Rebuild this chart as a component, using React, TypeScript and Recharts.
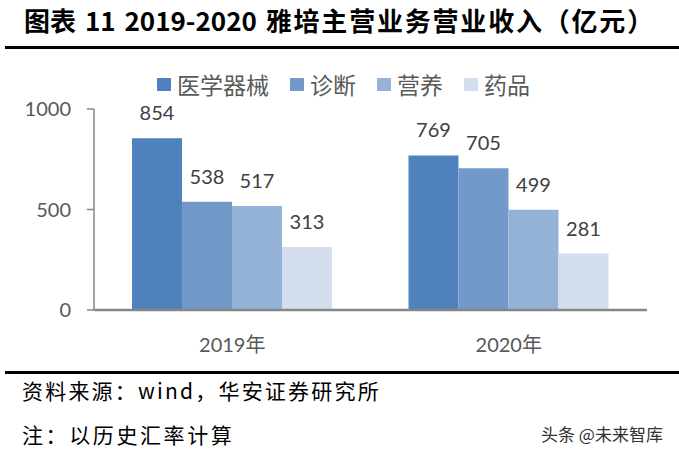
import React from 'react';
import { BarChart, Bar, XAxis, YAxis, LabelList } from 'recharts';

// 2019-2020 雅培主营业务营业收入（亿元）
const categories = ['2019年', '2020年'];
const medicalDevices = [854, 769];
const diagnostics = [538, 705];
const nutrition = [517, 499];
const pharma = [313, 281];
const yTicks = [0, 500, 1000];

const series = [
  { key: '医学器械', values: medicalDevices, color: '#4F81BD' },
  { key: '诊断', values: diagnostics, color: '#7399CB' },
  { key: '营养', values: nutrition, color: '#95B3D7' },
  { key: '药品', values: pharma, color: '#D4DEEF' },
];

const data = categories.map((name, i) => {
  const row: Record<string, string | number> = { name };
  series.forEach(s => {
    row[s.key] = s.values[i];
  });
  return row;
});

const cjk = '"Noto Sans CJK SC", "Noto Sans", sans-serif';
const num = 'Lato, "Noto Sans CJK SC", sans-serif';

function ChartLegend() {
  return (
    <div
      style={{
        position: 'absolute',
        top: 71,
        left: 0,
        width: 679,
        display: 'flex',
        justifyContent: 'center',
        alignItems: 'center',
        paddingLeft: 8,
        boxSizing: 'border-box',
      }}
    >
      {series.map((s, i) => (
        <div key={s.key} style={{ display: 'flex', alignItems: 'center', marginLeft: i === 0 ? 0 : 21 }}>
          <span style={{ display: 'inline-block', width: 14, height: 13, background: s.color, marginRight: 6 }} />
          <span style={{ fontFamily: cjk, fontSize: 23, color: '#595959', lineHeight: '26px' }}>{s.key}</span>
        </div>
      ))}
    </div>
  );
}

export default function App() {
  return (
    <div
      style={{
        position: 'absolute',
        left: 0,
        top: 0,
        width: 679,
        height: 453,
        background: '#fff',
        overflow: 'hidden',
      }}
    >
      <div
        style={{
          position: 'absolute',
          left: 24,
          top: 3,
          fontFamily: cjk,
          fontWeight: 700,
          fontSize: 26,
          wordSpacing: 3,
          color: '#000',
          whiteSpace: 'nowrap',
          lineHeight: '34px',
        }}
      >
        图表 11 2019-2020 <span style={{ letterSpacing: 1.8 }}>雅培主营业务营业收入（亿元）</span>
      </div>
      <div style={{ position: 'absolute', left: 5, top: 46, width: 674, height: 3, background: '#000' }} />

      <ChartLegend />

      <BarChart
        width={679}
        height={453}
        data={data}
        margin={{ top: 109, right: 32, bottom: 103, left: 0 }}
        barCategoryGap={38}
        barGap={0}
        style={{ position: 'absolute', left: 0, top: 0 }}
      >
        <XAxis
          dataKey="name"
          height={40}
          tickLine={false}
          tickSize={0}
          tickMargin={28}
          axisLine={{ stroke: '#868686', strokeWidth: 2.5 }}
          tick={{ fontSize: 20, fill: '#595959', fontFamily: num }}
        />
        <YAxis
          width={94}
          domain={[0, 1000]}
          ticks={yTicks}
          interval={0}
          tickSize={7}
          tickMargin={16}
          axisLine={{ stroke: '#868686', strokeWidth: 1.5 }}
          tickLine={{ stroke: '#868686', strokeWidth: 1.5 }}
          tick={{ fontSize: 20, fill: '#595959', fontFamily: num }}
        />
        {series.map(s => (
          <Bar key={s.key} dataKey={s.key} fill={s.color} isAnimationActive={false}>
            <LabelList
              dataKey={s.key}
              position="top"
              offset={18}
              style={{ fontSize: 20, fill: '#404040', fontFamily: num }}
            />
          </Bar>
        ))}
      </BarChart>

      <div style={{ position: 'absolute', left: 5, top: 371, width: 674, height: 3, background: '#000' }} />
      <div
        style={{
          position: 'absolute',
          left: 22,
          top: 376,
          fontFamily: cjk,
          fontSize: 21,
          letterSpacing: 2.2,
          color: '#000',
          whiteSpace: 'nowrap',
          lineHeight: '28px',
        }}
      >
        资料来源：wind，华安证券研究所
      </div>
      <div
        style={{
          position: 'absolute',
          left: 22,
          top: 420,
          fontFamily: cjk,
          fontSize: 21,
          letterSpacing: 2.6,
          color: '#000',
          whiteSpace: 'nowrap',
          lineHeight: '28px',
        }}
      >
        注：以历史汇率计算
      </div>
      <div
        style={{
          position: 'absolute',
          left: 541,
          top: 423,
          fontFamily: cjk,
          fontSize: 17,
          color: '#333',
          whiteSpace: 'nowrap',
          lineHeight: '22px',
        }}
      >
        头条 @未来智库
      </div>
    </div>
  );
}
